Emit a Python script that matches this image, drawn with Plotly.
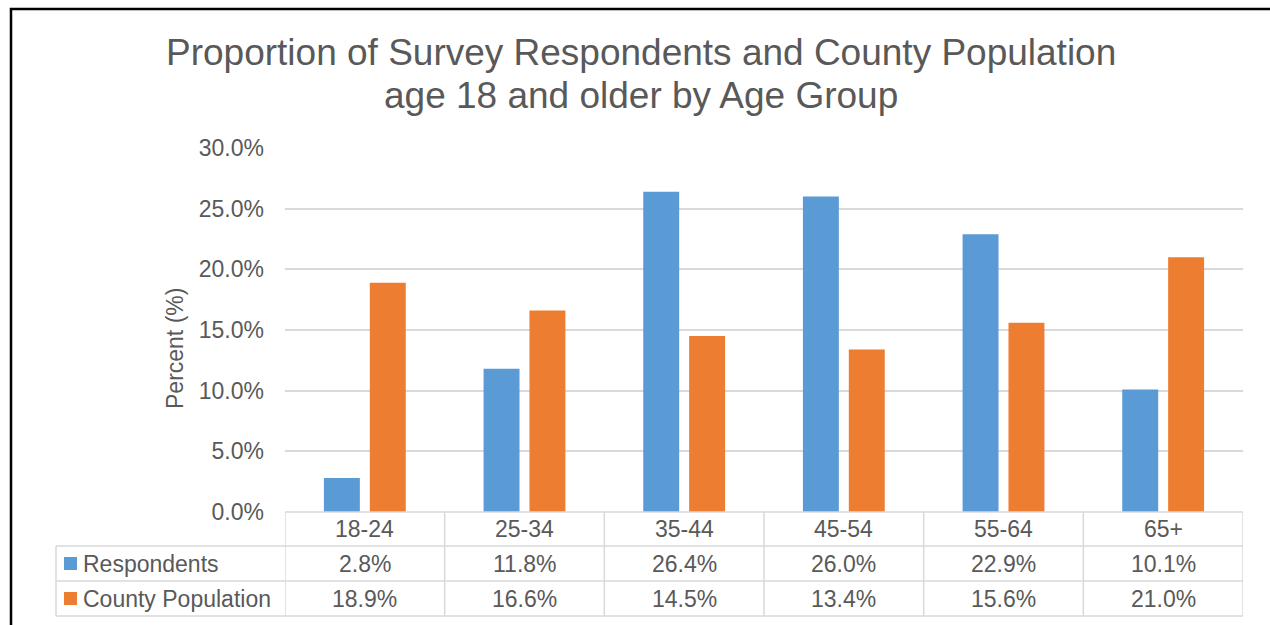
import plotly.graph_objects as go

# Age groups and the share of each group (percent)
age_groups = ["18-24", "25-34", "35-44", "45-54", "55-64", "65+"]
respondents = [2.8, 11.8, 26.4, 26.0, 22.9, 10.1]
county_population = [18.9, 16.6, 14.5, 13.4, 15.6, 21.0]
series_names = ["Respondents", "County Population"]
series_colors = ["#5B9BD5", "#ED7D31"]

title_lines = ["Proportion of Survey Respondents and County Population",
               "age 18 and older by Age Group"]
y_title = "Percent (%)"

W, H = 1270, 625
ML, MR, MT, MB = 285, 27, 148, 113
PW, PH = W - ML - MR, H - MT - MB

TEXT = "#595959"
GRID = "#D9D9D9"
FONT = "Liberation Sans, Arial, sans-serif"
FS = 23


def px_x(px):
    return (px - ML) / PW


def px_y(py):
    return (H - MB - py) / PH


fig = go.Figure()
for name, vals, col in zip(series_names, [respondents, county_population], series_colors):
    fig.add_trace(go.Bar(x=age_groups, y=vals, name=name, marker_color=col,
                         marker_line_width=0))

fig.update_layout(
    width=W, height=H,
    margin=dict(l=ML, r=MR, t=MT, b=MB),
    paper_bgcolor="white", plot_bgcolor="white",
    barmode="group", bargap=0.425, bargroupgap=0.217,
    showlegend=False,
    font=dict(family=FONT, color=TEXT, size=FS),
)
fig.update_xaxes(showticklabels=False, showgrid=False, zeroline=False, showline=False,
                 range=[-0.5, 5.5])
fig.update_yaxes(range=[0, 30], dtick=5, tickformat=".1f", ticksuffix="%",
                 showgrid=True, gridcolor=GRID, gridwidth=1.5, zeroline=False,
                 showline=False, ticklabelstandoff=20,
                 tickfont=dict(size=FS, color=TEXT))

shapes = []
ann = []

# data table below the plot
row_edges = [512, 546, 581, 616]
label_left = 56
line = dict(color=GRID, width=1.5)
shapes.append(dict(type="line", xref="x", yref="paper", x0=-0.5, x1=5.5,
                   y0=px_y(row_edges[0]), y1=px_y(row_edges[0]), line=line))
for r in row_edges[1:]:
    shapes.append(dict(type="line", xref="paper", yref="paper", x0=px_x(label_left), x1=1,
                       y0=px_y(r), y1=px_y(r), line=line))
for i in range(len(age_groups) + 1):
    shapes.append(dict(type="line", xref="x", yref="paper", x0=i - 0.5, x1=i - 0.5,
                       y0=px_y(row_edges[0]), y1=px_y(row_edges[-1]), line=line))
shapes.append(dict(type="line", xref="paper", yref="paper", x0=px_x(label_left), x1=px_x(label_left),
                   y0=px_y(row_edges[1]), y1=px_y(row_edges[-1]), line=line))

row_mid = [(row_edges[k] + row_edges[k + 1]) / 2 for k in range(3)]
for i, g in enumerate(age_groups):
    ann.append(dict(x=i, xref="x", y=px_y(row_mid[0]), yref="paper", text=g,
                    showarrow=False, xanchor="center", yanchor="middle"))
for k, vals in enumerate([respondents, county_population]):
    for i, v in enumerate(vals):
        ann.append(dict(x=i, xref="x", y=px_y(row_mid[k + 1]), yref="paper",
                        text=f"{v:.1f}%", showarrow=False, xanchor="center", yanchor="middle"))
    # legend key and series name
    shapes.append(dict(type="rect", xref="paper", yref="paper", x0=px_x(64), x1=px_x(77),
                       y0=px_y(row_mid[k + 1] - 6.5), y1=px_y(row_mid[k + 1] + 6.5),
                       fillcolor=series_colors[k], line_width=0))
    ann.append(dict(x=px_x(81), xref="paper", y=px_y(row_mid[k + 1]), yref="paper",
                    text=series_names[k], showarrow=False, xanchor="left", yanchor="middle"))

# title and axis title
ann.append(dict(x=px_x(641), xref="paper", y=px_y(52), yref="paper", text=title_lines[0],
                showarrow=False, xanchor="center", yanchor="middle", font=dict(size=37)))
ann.append(dict(x=px_x(641), xref="paper", y=px_y(95), yref="paper", text=title_lines[1],
                showarrow=False, xanchor="center", yanchor="middle", font=dict(size=37)))
ann.append(dict(x=px_x(175), xref="paper", y=px_y(349), yref="paper", text=y_title,
                textangle=-90, showarrow=False, xanchor="center", yanchor="middle"))

# outer frame
shapes.append(dict(type="rect", xref="paper", yref="paper", x0=px_x(11), x1=px_x(W + 20),
                   y0=px_y(H + 20), y1=px_y(9), line=dict(color="black", width=2.5)))

fig.update_layout(shapes=shapes, annotations=ann)
fig.write_html("out.html")
